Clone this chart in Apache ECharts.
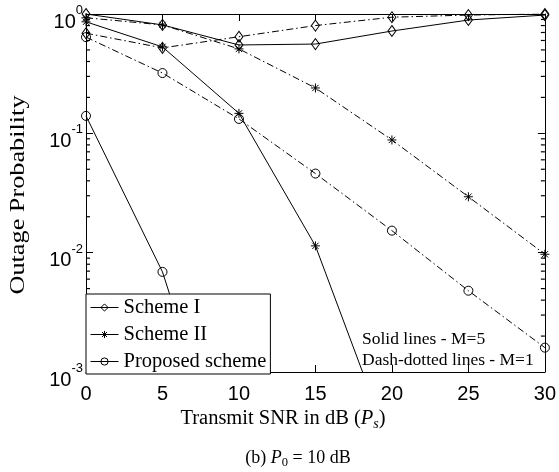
<!DOCTYPE html>
<html>
<head>
<meta charset="utf-8">
<script src="https://cdn.jsdelivr.net/npm/echarts@6/dist/echarts.min.js"></script>
<style>
  html, body { margin: 0; padding: 0; background: #fff; }
  #chart { width: 559px; height: 472px; }
</style>
</head>
<body>
<div id="chart"></div>
<script>
// ---- data ----
const snr = [0, 5, 10, 15, 20, 25, 30];
const schemeI_M5 = [1.0, 0.81, 0.55, 0.56, 0.72, 0.89, 0.98];
const schemeI_M1 = [0.69, 0.52, 0.645, 0.80, 0.94, 0.98, 1.0];
const schemeII_M5 = [0.86, 0.53, 0.147, 0.0114, 0.00022];
const schemeII_M1 = [0.93, 0.81, 0.51, 0.24, 0.088, 0.0294, 0.0097];
const proposed_M5 = [0.14, 0.0069, 0.00007];
const proposed_M1 = [0.64, 0.32, 0.132, 0.046, 0.0153, 0.0048, 0.0016];
const legendNames = ['Scheme I', 'Scheme II', 'Proposed scheme'];
const xTicks = [0, 5, 10, 15, 20, 25, 30];
const yDecades = [-3, -2, -1, 0];

const SERIF = 'Liberation Serif';
const SANS = 'Liberation Sans';
const TICK = '#000';

function pairs(vals) { return vals.map((v, i) => [snr[i], v]); }

const STAR = 'path://M5,0L5,10M0,5L10,5M1.5,1.5L8.5,8.5M1.5,8.5L8.5,1.5';
const markers = {
  diamond: { symbol: 'diamond', symbolSize: [8, 11] },
  star: { symbol: STAR, symbolSize: 9 },
  circle: { symbol: 'circle', symbolSize: 9 }
};
const DASHDOT = [7, 3, 1.5, 3];

function lineSeries(name, vals, mk, dashed) {
  return {
    type: 'line',
    name: name,
    data: pairs(vals),
    symbol: markers[mk].symbol,
    symbolSize: markers[mk].symbolSize,
    showAllSymbol: true,
    clip: true,
    animation: false,
    z: 3,
    lineStyle: { color: '#000', width: 1, type: dashed ? DASHDOT : 'solid' },
    itemStyle: { color: 'none', borderColor: '#000', borderWidth: 1 },
    emphasis: { disabled: true }
  };
}

// minor tick values for the log axis (2..9 x 10^k)
const minorVals = [];
yDecades.slice(0, -1).forEach(k => {
  for (let m = 2; m <= 9; m++) minorVals.push(m * Math.pow(10, k));
});

function minorTickSeries(xv, offset) {
  return {
    type: 'scatter',
    name: 'minor' + xv,
    data: minorVals.map(v => [xv, v]),
    symbol: 'rect',
    symbolSize: [4, 1.2],
    symbolOffset: [offset, 0],
    clip: false,
    silent: true,
    animation: false,
    z: 4,
    itemStyle: { color: TICK, opacity: 1 },
    emphasis: { disabled: true }
  };
}

function xAxisDef(pos, showLabel) {
  return {
    type: 'value', min: 0, max: 30, interval: 5, position: pos,
    axisLine: { show: true, onZero: false, lineStyle: { color: '#000', width: 1 } },
    axisTick: { show: true, inside: true, length: 7, lineStyle: { color: TICK, width: 1 } },
    axisLabel: showLabel ? { show: true, margin: 12, fontFamily: SANS, fontSize: 20, color: '#000' } : { show: false },
    splitLine: { show: false },
    z: 5
  };
}

const chart = echarts.init(document.getElementById('chart'), null, { renderer: 'canvas' });

const yLabelRich = {
  b: { fontFamily: SANS, fontSize: 20, color: '#000', lineHeight: 28, verticalAlign: 'bottom' },
  s: { fontFamily: SANS, fontSize: 13, color: '#000', lineHeight: 28, verticalAlign: 'top' }
};

function yAxisDef(pos, showLabel) {
  return {
    type: 'log', logBase: 10, min: 0.001, max: 1, position: pos,
    axisLine: { show: true, onZero: false, lineStyle: { color: '#000', width: 1 } },
    axisTick: { show: true, inside: true, length: 7, lineStyle: { color: TICK, width: 1 } },
    axisLabel: showLabel ? {
      show: true, margin: 3,
      formatter: v => '{b|10}{s|' + Math.round(Math.log10(v)) + '}',
      rich: yLabelRich,
      padding: [8, 0, 0, 0]
    } : { show: false },
    splitLine: { show: false },
    z: 5
  };
}

const option = {
  backgroundColor: '#fff',
  animation: false,
  grid: { left: 86, top: 14, width: 460, height: 358, containLabel: false },
  xAxis: [xAxisDef('bottom', true), xAxisDef('top', false)],
  yAxis: [yAxisDef('left', true), yAxisDef('right', false)],
  legend: {
    data: legendNames,
    orient: 'vertical',
    left: 86, top: 294,
    backgroundColor: '#fff',
    borderColor: '#000', borderWidth: 1, borderRadius: 0,
    padding: [3, 4, 2, 4],
    itemWidth: 28, itemHeight: 9, itemGap: 6,
    selectedMode: false,
    z: 8,
    itemStyle: { color: 'none', borderColor: '#000', borderWidth: 1 },
    lineStyle: { color: '#000', width: 1, type: 'solid' },
    textStyle: { fontFamily: SERIF, fontSize: 20.5, color: '#000', lineHeight: 21 }
  },
  graphic: [
    {
      type: 'text', rotation: Math.PI / 2,
      x: 18, y: 195, scaleX: 1.25,
      style: { text: 'Outage Probability', font: '21px "Liberation Serif"', fill: '#000', align: 'center', verticalAlign: 'middle' },
      z: 10
    },
    {
      type: 'text', x: 283, y: 419,
      style: {
        text: 'Transmit SNR in dB ({i|P}{sub|s})',
        font: '20.5px "Liberation Serif"', fill: '#000', align: 'center', verticalAlign: 'middle',
        rich: {
          i: { fontFamily: SERIF, fontSize: 20.5, fontStyle: 'italic', lineHeight: 24, verticalAlign: 'middle' },
          sub: { fontFamily: SERIF, fontSize: 14, fontStyle: 'italic', lineHeight: 24, verticalAlign: 'bottom' }
        }
      },
      z: 10
    },
    {
      type: 'text', x: 298, y: 458,
      style: {
        text: '(b) {i|P}{sub|0} = 10 dB',
        font: '18px "Liberation Serif"', fill: '#000', align: 'center', verticalAlign: 'middle',
        rich: {
          i: { fontFamily: SERIF, fontSize: 18, fontStyle: 'italic', lineHeight: 22, verticalAlign: 'middle' },
          sub: { fontFamily: SERIF, fontSize: 12.5, lineHeight: 22, verticalAlign: 'bottom' }
        }
      },
      z: 10
    },
    {
      type: 'text', x: 362, y: 339,
      style: { text: 'Solid lines - M=5', font: '17.5px "Liberation Serif"', fill: '#000', align: 'left', verticalAlign: 'middle' },
      z: 10
    },
    {
      type: 'text', x: 362, y: 360,
      style: { text: 'Dash-dotted lines - M=1', font: '17.5px "Liberation Serif"', fill: '#000', align: 'left', verticalAlign: 'middle' },
      z: 10
    }
  ],
  series: [
    lineSeries('Scheme I', schemeI_M5, 'diamond', false),
    lineSeries('Scheme II', schemeII_M5, 'star', false),
    lineSeries('Proposed scheme', proposed_M5, 'circle', false),
    lineSeries('Scheme I (M=1)', schemeI_M1, 'diamond', true),
    lineSeries('Scheme II (M=1)', schemeII_M1, 'star', true),
    lineSeries('Proposed scheme (M=1)', proposed_M1, 'circle', true),
    minorTickSeries(xTicks[0], 2),
    minorTickSeries(xTicks[xTicks.length - 1], -2)
  ]
};

chart.setOption(option);
</script>
</body>
</html>
